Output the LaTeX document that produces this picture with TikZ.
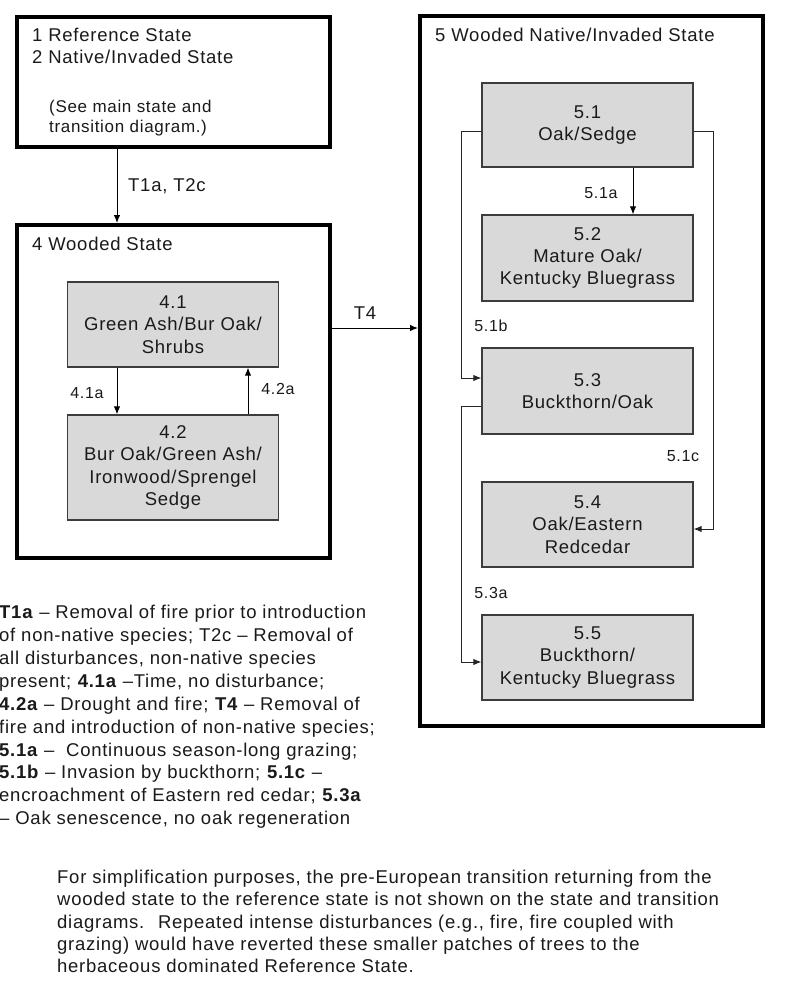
\documentclass[tikz,border=0pt]{standalone}
\usepackage{fontspec}
\setmainfont{Liberation Sans}[LetterSpace=4]
\usetikzlibrary{arrows.meta,calc}
\definecolor{boxgray}{HTML}{D9D9D9}
\definecolor{ink}{HTML}{1A1A1A}
\tikzset{
  statebox/.style={draw=black, line width=4pt, fill=white, rectangle, inner sep=0pt},
  phase/.style={draw=ink!85, line width=1.3pt, fill=boxgray, rectangle, inner sep=0pt, minimum width=211pt, align=center, text=ink, font=\fontsize{18.5}{22.3}\selectfont},
  lbl/.style={inner sep=0pt, text=ink, font=\fontsize{18.5}{22.3}\selectfont},
  small/.style={inner sep=0pt, text=ink, font=\fontsize{16}{20}\selectfont},
  arr/.style={-{Latex[length=8pt,width=6.5pt]}, line width=1pt, draw=black},
  loop/.style={-{Latex[length=8pt,width=6.5pt]}, line width=1pt, draw=black!85}
}
\begin{document}
\begin{tikzpicture}[x=1pt,y=-1pt]
\useasboundingbox[fill=white] (0,0) rectangle (800,988);

% State boxes
\node[statebox, minimum width=313pt, minimum height=130pt] (b1) at (173.5,82) {};
\node[statebox, minimum width=313pt, minimum height=333pt] (b4) at (173.5,391.5) {};
\node[statebox, minimum width=343pt, minimum height=710pt] (b5) at (591.5,371) {};

% Box 1 texts
\node[lbl, anchor=west] (t1) at (32,35) {1 Reference State};
\node[lbl, anchor=west] (t2) at (32,57) {2 Native/Invaded State};
\node[small, anchor=west, align=left, font=\fontsize{17}{20}\selectfont] (t3) at (49,118) {(See main state and\\transition diagram.)};

% Box 4
\node[lbl, anchor=west] (t4) at (32,244) {4 Wooded State};
\node[phase, minimum height=85pt] (b41) at (173,324.5) {4.1\\Green Ash/Bur Oak/\\Shrubs};
\node[phase, minimum height=105pt] (b42) at (173,467.5) {4.2\\Bur Oak/Green Ash/\\Ironwood/Sprengel\\Sedge};

% Box 5
\node[lbl, anchor=west] (t5) at (435,35) {5 Wooded Native/Invaded State};
\node[phase, minimum height=84pt] (b51) at (587.5,125) {5.1\\Oak/Sedge};
\node[phase, minimum height=86pt] (b52) at (587.5,258) {5.2\\Mature Oak/\\Kentucky Bluegrass};
\node[phase, minimum height=86pt] (b53) at (587.5,391) {5.3\\Buckthorn/Oak};
\node[phase, minimum height=85pt] (b54) at (587.5,524.5) {5.4\\Oak/Eastern\\Redcedar};
\node[phase, minimum height=85pt] (b55) at (587.5,657.5) {5.5\\Buckthorn/\\Kentucky Bluegrass};

% Transitions between states
\draw[arr] (117,0 |- b1.south) -- (117,0 |- b4.north);
\node[lbl, anchor=west] (lT1) at (128,186) {T1a, T2c};
\draw[arr] (b4.east |- 0,328) -- (b5.west |- 0,328);
\node[lbl] (lT4) at (365,313) {T4};

% Box 4 internal
\draw[arr] (117,0 |- b41.south) -- (117,0 |- b42.north);
\draw[arr] (248,0 |- b42.north) -- (248,0 |- b41.south);
\node[small] (l41) at (87,393) {4.1a};
\node[small] (l42) at (278,389) {4.2a};

% Box 5 internal
\draw[arr] (633,0 |- b51.south) -- (633,0 |- b52.north);
\node[small] (l51a) at (601,193) {5.1a};
\coordinate (c1) at (461,131);
\coordinate (c2) at (713,131);
\coordinate (c3) at (461,406);
\draw[loop] (b51.west |- c1) -- (c1) -- (c1 |- 0,378) -- (b53.west |- 0,378);
\node[small] (l51b) at (491,326) {5.1b};
\draw[loop] (b51.east |- c2) -- (c2) -- (c2 |- 0,529) -- (b54.east |- 0,529);
\node[small] (l51c) at (683,456) {5.1c};
\draw[loop] (b53.west |- c3) -- (c3) -- (c3 |- 0,662) -- (b55.west |- 0,662);
\node[small] (l53a) at (491,593) {5.3a};

% Legend
\node[lbl, anchor=north west, align=left, font=\fontsize{18.5}{22.9}\selectfont] (legend) at (-1,605) {%
\textbf{T1a} -- Removal of fire prior to introduction\\
of non-native species; T2c -- Removal of\\
all disturbances, non-native species\\
present; \textbf{4.1a} --Time, no disturbance;\\
\textbf{4.2a} -- Drought and fire; \textbf{T4} -- Removal of\\
fire and introduction of non-native species;\\
\textbf{5.1a} -- \ Continuous season-long grazing;\\
\textbf{5.1b} -- Invasion by buckthorn; \textbf{5.1c} --\\
encroachment of Eastern red cedar; \textbf{5.3a}\\
-- Oak senescence, no oak regeneration};

% Note
\node[lbl, anchor=north west, align=left, font=\fontsize{18.5}{22.3}\selectfont] (note) at (57,870) {%
For simplification purposes, the pre-European transition returning from the\\
wooded state to the reference state is not shown on the state and transition\\
diagrams. \ Repeated intense disturbances (e.g., fire, fire coupled with\\
grazing) would have reverted these smaller patches of trees to the\\
herbaceous dominated Reference State.};
\end{tikzpicture}
\end{document}
